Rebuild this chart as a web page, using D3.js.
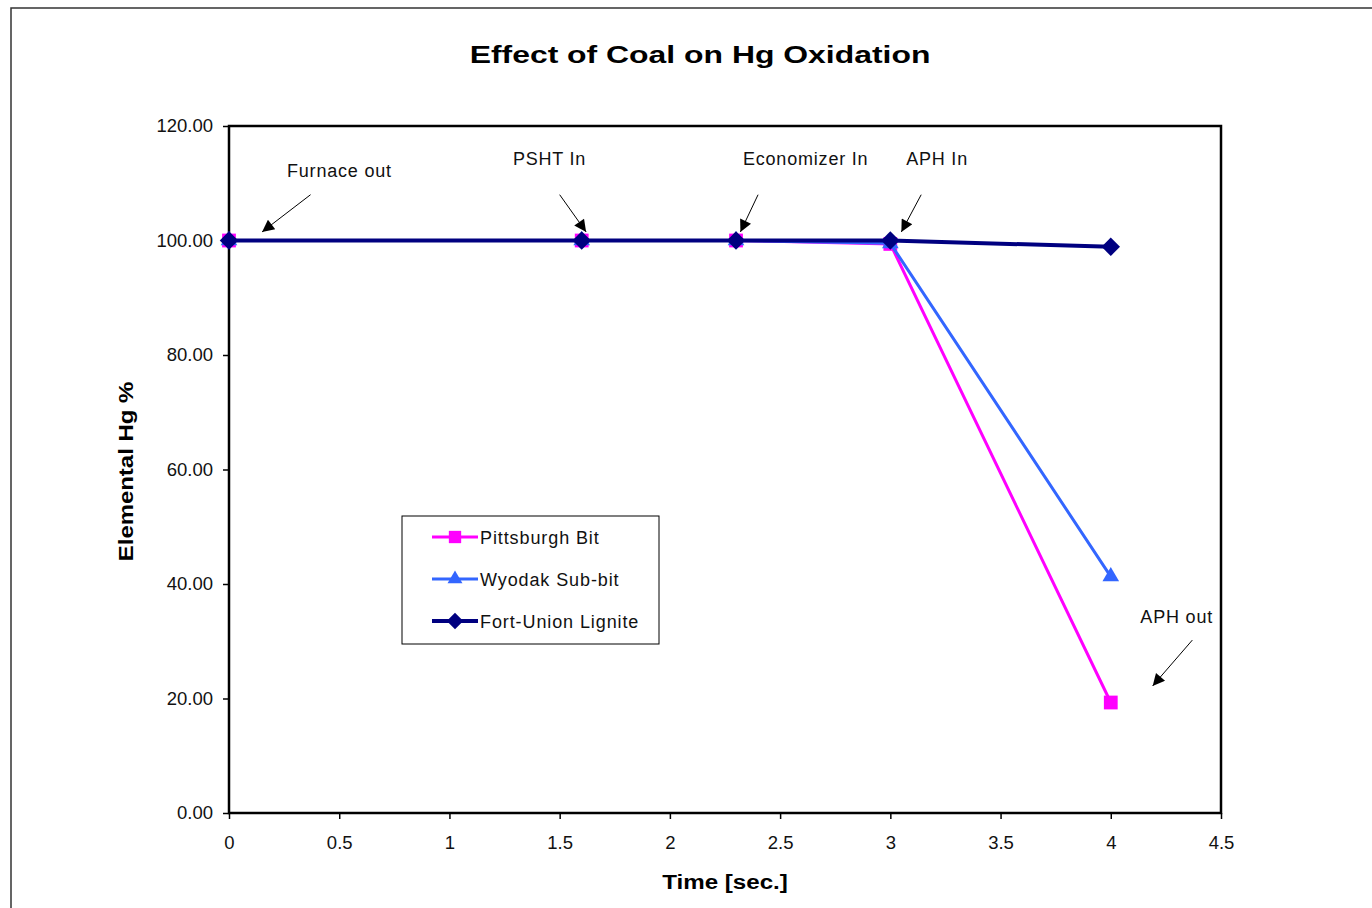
<!DOCTYPE html>
<html>
<head>
<meta charset="utf-8">
<script src="https://cdn.jsdelivr.net/npm/d3@7"></script>
<style>
  html, body { margin: 0; padding: 0; background: #fff; }
  svg { display: block; font-family: "Liberation Sans", Arial, sans-serif; }
</style>
</head>
<body>
<svg id="chart" width="1372" height="908"></svg>
<script>
// Residence time at each sampling location (seconds)
const times = [0, 1.6, 2.3, 3, 4];

// Elemental Hg remaining (%) for each coal
const pittsburghBit = [100, 100, 100, 99.4, 19.3];
const wyodakSubBit = [100, 100, 100, 99.5, 41.3];
const fortUnionLignite = [100, 100, 100, 100, 98.9];

const seriesNames = ["Pittsburgh Bit", "Wyodak Sub-bit", "Fort-Union Lignite"];

const xTicks = [0, 0.5, 1, 1.5, 2, 2.5, 3, 3.5, 4, 4.5];
const yTicks = [0, 20, 40, 60, 80, 100, 120];

// Location labels: text anchor point and arrow tail/head in data units
const labelNames = ["Furnace out", "PSHT In", "Economizer In", "APH In", "APH out"];
const labelTextX = [0.501, 1.454, 2.616, 3.212, 4.299];
const labelTextY = [111.1, 113.2, 113.2, 113.2, 33.2];
const arrowTailX = [0.37, 1.5, 2.4, 3.14, 4.37];
const arrowTailY = [108, 108, 108, 108, 30.2];
const arrowHeadX = [0.15, 1.62, 2.32, 3.05, 4.19];
const arrowHeadY = [101.5, 101.5, 101.5, 101.5, 22.2];

const svg = d3.select("#chart");

// Outer chart frame
svg.append("rect")
  .attr("x", 11).attr("y", 8)
  .attr("width", 1372).attr("height", 920)
  .attr("fill", "none").attr("stroke", "#333").attr("stroke-width", 1.5);

const plot = { left: 229, right: 1221, top: 126, bottom: 813 };

const x = d3.scaleLinear().domain([0, 4.5]).range([plot.left, plot.right]);
const y = d3.scaleLinear().domain([0, 120]).range([plot.bottom, plot.top]);

// Bold text drawn slightly widened
function wideText(px, py, str, size, sx, rotate) {
  const g = svg.append("g")
    .attr("transform", `translate(${px},${py})${rotate ? " rotate(-90)" : ""} scale(${sx},1)`);
  g.append("text")
    .attr("text-anchor", "middle")
    .attr("font-size", size).attr("font-weight", "bold")
    .text(str);
  return g;
}

// Title
wideText(700, 63, "Effect of Coal on Hg Oxidation", 24, 1.33);

// Axes
const xAxis = svg.append("g")
  .attr("transform", `translate(0,${plot.bottom})`)
  .call(d3.axisBottom(x).tickValues(xTicks).tickSize(6).tickSizeOuter(0).tickPadding(17)
    .tickFormat(d => d3.format("~g")(d)));
const yAxis = svg.append("g")
  .attr("transform", `translate(${plot.left},0)`)
  .call(d3.axisLeft(y).tickValues(yTicks).tickSize(6).tickSizeOuter(0).tickPadding(10)
    .tickFormat(d3.format(".2f")));

[xAxis, yAxis].forEach(g => {
  g.select(".domain").remove();
  g.selectAll(".tick line").attr("stroke", "#000").attr("stroke-width", 1.5);
  g.selectAll(".tick text").attr("font-size", 18.5).attr("fill", "#111")
    .attr("font-family", "\"Liberation Sans\", Arial, sans-serif");
});

// Plot area border
svg.append("rect")
  .attr("x", plot.left).attr("y", plot.top)
  .attr("width", plot.right - plot.left).attr("height", plot.bottom - plot.top)
  .attr("fill", "none").attr("stroke", "#000").attr("stroke-width", 2.5);

// Axis titles
wideText(133, (plot.top + plot.bottom) / 2 + 2, "Elemental Hg %", 21, 1.14, true);
wideText(725, 889, "Time [sec.]", 21, 1.15);

// Series
const diamond = {
  draw(ctx, size) {
    const r = Math.sqrt(size / 2);
    ctx.moveTo(0, -r); ctx.lineTo(r, 0); ctx.lineTo(0, r); ctx.lineTo(-r, 0); ctx.closePath();
  }
};
const series = [
  { name: seriesNames[0], values: pittsburghBit, color: "#FF00FF", width: 3, symbol: d3.symbolSquare, size: 190 },
  { name: seriesNames[1], values: wyodakSubBit, color: "#3366FF", width: 3, symbol: d3.symbolTriangle, size: 120 },
  { name: seriesNames[2], values: fortUnionLignite, color: "#000080", width: 4, symbol: diamond, size: 170 }
];

const line = d3.line().x(d => x(d[0])).y(d => y(d[1]));

series.forEach(s => {
  const pts = times.map((t, i) => [t, s.values[i]]);
  svg.append("path")
    .attr("d", line(pts))
    .attr("fill", "none")
    .attr("stroke", s.color)
    .attr("stroke-width", s.width)
    .attr("stroke-linejoin", "round");
  svg.append("g").selectAll("path")
    .data(pts)
    .join("path")
    .attr("transform", d => `translate(${x(d[0])},${y(d[1])})`)
    .attr("d", d3.symbol().type(s.symbol).size(s.size))
    .attr("fill", s.color);
});

// Arrowhead marker
svg.append("defs").append("marker")
  .attr("id", "arrowhead")
  .attr("viewBox", "0 0 10 10")
  .attr("refX", 10).attr("refY", 5)
  .attr("markerWidth", 16).attr("markerHeight", 12)
  .attr("markerUnits", "userSpaceOnUse")
  .attr("orient", "auto")
  .append("path")
  .attr("d", "M0,0 L10,5 L0,10 Z")
  .attr("fill", "#000");

labelNames.forEach((name, i) => {
  svg.append("text")
    .attr("x", x(labelTextX[i])).attr("y", y(labelTextY[i]))
    .attr("text-anchor", "middle")
    .attr("font-size", 18).attr("letter-spacing", 0.8)
    .attr("fill", "#111")
    .text(name);
  svg.append("line")
    .attr("x1", x(arrowTailX[i])).attr("y1", y(arrowTailY[i]))
    .attr("x2", x(arrowHeadX[i])).attr("y2", y(arrowHeadY[i]))
    .attr("stroke", "#000").attr("stroke-width", 1)
    .attr("marker-end", "url(#arrowhead)");
});

// Legend
const legend = svg.append("g").attr("transform", "translate(402,516)");
legend.append("rect")
  .attr("width", 257).attr("height", 128)
  .attr("fill", "#fff").attr("stroke", "#000").attr("stroke-width", 1);
series.forEach((s, i) => {
  const ly = 21 + i * 42;
  legend.append("line")
    .attr("x1", 30).attr("x2", 76).attr("y1", ly).attr("y2", ly)
    .attr("stroke", s.color).attr("stroke-width", s.width);
  legend.append("path")
    .attr("transform", `translate(53,${ly})`)
    .attr("d", d3.symbol().type(s.symbol).size(s.size * 0.8))
    .attr("fill", s.color);
  legend.append("text")
    .attr("x", 78).attr("y", ly + 6.5)
    .attr("font-size", 18).attr("letter-spacing", 0.9)
    .attr("fill", "#111")
    .text(s.name);
});
</script>
</body>
</html>
